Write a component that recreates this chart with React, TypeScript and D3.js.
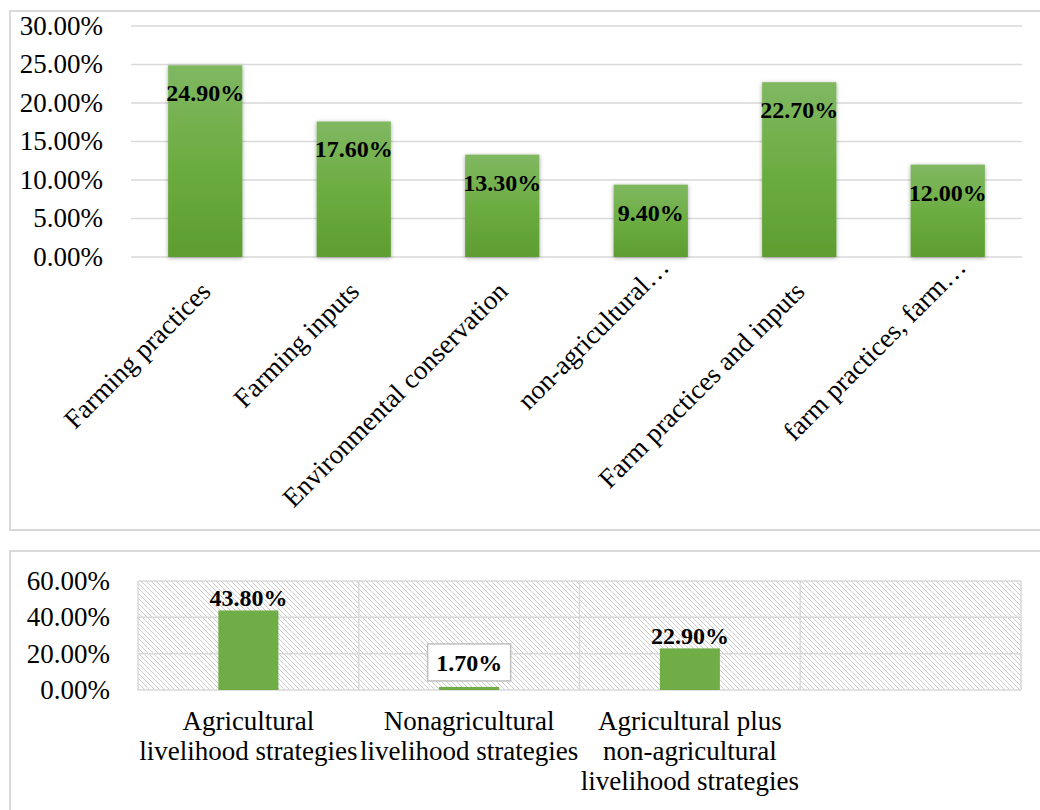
import React from 'react';
import * as d3 from 'd3';

// Upper chart: share of respondents by type of advice received
const topCategories = [
  'Farming practices',
  'Farming inputs',
  'Environmental conservation',
  'non-agricultural…',
  'Farm practices and inputs',
  'farm practices, farm…',
];
const topValues = [24.9, 17.6, 13.3, 9.4, 22.7, 12.0];
const topTicks = [0, 5, 10, 15, 20, 25, 30];

// Lower chart: share by livelihood strategy
const bottomLabelLines = [
  ['Agricultural', 'livelihood strategies'],
  ['Nonagricultural', 'livelihood strategies'],
  ['Agricultural plus', 'non-agricultural', 'livelihood strategies'],
  [],
];
const bottomValues: (number | null)[] = [43.8, 1.7, 22.9, null];
const bottomTicks = [0, 20, 40, 60];
const boxedLabel = [false, true, false, false];

const FONT = '"Liberation Serif", "Times New Roman", serif';
const GRID = '#d9d9d9';
const fmt = (v: number) => v.toFixed(2) + '%';

export default function App() {
  // ---- upper chart scales
  const xTop = d3
    .scaleBand<number>()
    .domain(d3.range(topCategories.length))
    .range([131, 1022])
    .paddingInner(0.5)
    .paddingOuter(0.25);
  const yTop = d3.scaleLinear().domain([0, 30]).range([257, 26]);

  // ---- lower chart scales
  const xBot = d3
    .scaleBand<number>()
    .domain(d3.range(bottomLabelLines.length))
    .range([138, 1021])
    .paddingInner(0.728)
    .paddingOuter(0.364);
  const xBotGrid = d3
    .scaleBand<number>()
    .domain(d3.range(bottomLabelLines.length))
    .range([138, 1021]);
  const yBot = d3.scaleLinear().domain([0, 60]).range([690, 581]);

  return (
    <svg
      width={1040}
      height={810}
      style={{ position: 'absolute', left: 0, top: 0, display: 'block', background: '#fff' }}
      fontFamily={FONT}
    >
      <defs>
        <linearGradient id="barGrad" x1="0" y1="0" x2="0" y2="1">
          <stop offset="0%" stopColor="#80b862" />
          <stop offset="50%" stopColor="#6cad42" />
          <stop offset="100%" stopColor="#5d9d31" />
        </linearGradient>
        <filter id="barShadow" x="-20%" y="-10%" width="140%" height="125%">
          <feDropShadow dx="0" dy="1" stdDeviation="2" floodColor="#000" floodOpacity="0.35" />
        </filter>
        <pattern id="hatch" width="5" height="5" patternUnits="userSpaceOnUse">
          <rect width="5" height="5" fill="#fff" />
          <path d="M0,0 L5,5 M-1,4 L1,6 M4,-1 L6,1" stroke="#cdcdcd" strokeWidth="1" />
        </pattern>
      </defs>

      {/* ================= upper chart ================= */}
      <rect x={10} y={11} width={1045} height={519} fill="#fff" stroke={GRID} strokeWidth={2} />

      {topTicks.map((t) => (
        <g key={'tg' + t}>
          <line x1={131} x2={1022} y1={yTop(t)} y2={yTop(t)} stroke={GRID} strokeWidth={1.5} />
          <text
            x={103}
            y={yTop(t)}
            dy="0.33em"
            textAnchor="end"
            fontSize={27}
            fill="#000"
          >
            {fmt(t)}
          </text>
        </g>
      ))}

      {topValues.map((v, i) => {
        const x = xTop(i)!;
        const w = xTop.bandwidth();
        return (
          <g key={'tb' + i}>
            <rect
              x={x}
              y={yTop(v)}
              width={w}
              height={yTop(0) - yTop(v)}
              fill="url(#barGrad)"
              filter="url(#barShadow)"
            />
            <text
              x={x + w / 2}
              y={yTop(v) + 36}
              textAnchor="middle"
              fontSize={24}
              fontWeight="bold"
              fill="#000"
            >
              {fmt(v)}
            </text>
          </g>
        );
      })}

      {topCategories.map((c, i) => {
        const cx = xTop(i)! + xTop.bandwidth() / 2;
        const truncated = c.endsWith('…');
        return (
          <text
            key={'tc' + i}
            transform={`translate(${cx + 7},${293}) rotate(-45)`}
            textAnchor="end"
            dx={truncated ? 26 : 0}
            dy={truncated ? -8 : 0}
            fontSize={27}
            fill="#000"
          >
            {c}
          </text>
        );
      })}

      {/* ================= lower chart ================= */}
      <rect x={10} y={551} width={1045} height={280} fill="#fff" stroke={GRID} strokeWidth={2} />
      <rect
        x={138}
        y={yBot(60)}
        width={1021 - 138}
        height={yBot(0) - yBot(60)}
        fill="url(#hatch)"
      />
      {bottomTicks.map((t) => (
        <g key={'bg' + t}>
          <line x1={138} x2={1021} y1={yBot(t)} y2={yBot(t)} stroke={GRID} strokeWidth={1.5} />
          <text x={110} y={yBot(t)} dy="0.33em" textAnchor="end" fontSize={27} fill="#000">
            {fmt(t)}
          </text>
        </g>
      ))}
      {d3.range(bottomLabelLines.length + 1).map((i) => {
        const x = i < bottomLabelLines.length ? xBotGrid(i)! : 1021;
        return (
          <line key={'bv' + i} x1={x} x2={x} y1={yBot(60)} y2={yBot(0)} stroke={GRID} strokeWidth={1.5} />
        );
      })}

      {bottomValues.map((v, i) => {
        if (v === null) return null;
        const x = xBot(i)!;
        const w = xBot.bandwidth();
        const cx = x + w / 2;
        const top = yBot(v);
        return (
          <g key={'bb' + i}>
            <rect x={x} y={top} width={w} height={yBot(0) - top} fill="#70ad47" />
            {boxedLabel[i] ? (
              <g>
                <rect
                  x={cx - 41.5}
                  y={top - 43}
                  width={83}
                  height={37}
                  fill="#fff"
                  stroke="#bfbfbf"
                  strokeWidth={1.5}
                />
                <text x={cx} y={top - 16} textAnchor="middle" fontSize={24} fontWeight="bold" fill="#000">
                  {fmt(v)}
                </text>
              </g>
            ) : (
              <text x={cx} y={top - 4} textAnchor="middle" fontSize={24} fontWeight="bold" fill="#000">
                {fmt(v)}
              </text>
            )}
          </g>
        );
      })}

      {bottomLabelLines.map((lines, i) => {
        const cx = xBot(i)! + xBot.bandwidth() / 2;
        return (
          <text key={'bl' + i} textAnchor="middle" fontSize={27} fill="#000">
            {lines.map((ln, j) => (
              <tspan key={j} x={cx} y={730 + j * 30}>
                {ln}
              </tspan>
            ))}
          </text>
        );
      })}
    </svg>
  );
}
